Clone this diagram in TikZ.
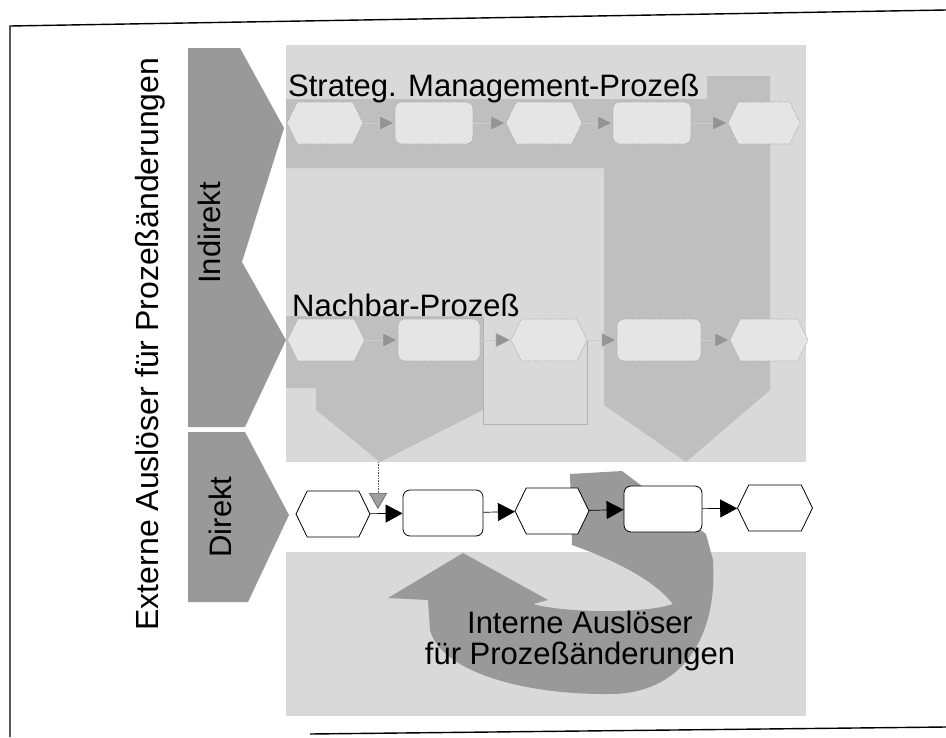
\documentclass[tikz,border=0pt]{standalone}
\usepackage{fontspec}
\setmainfont{Liberation Sans}
\usetikzlibrary{shapes.symbols,arrows.meta}

\definecolor{chev}{gray}{0.6}
\definecolor{paper}{gray}{0.85}
\definecolor{band}{gray}{0.75}
\definecolor{loopgray}{gray}{0.6}
\definecolor{ghost}{gray}{0.9}
\definecolor{ghostline}{gray}{0.62}
\definecolor{ghosttip}{gray}{0.58}

\begin{document}
\begin{tikzpicture}[x=1pt,y=-1pt,
  lbl/.style={font=\fontsize{31}{31}\selectfont, inner sep=0pt},
  evt/.style={signal, signal to=east and west, signal pointer angle=128,
    minimum height=46pt, inner sep=0pt, draw=black, fill=white, line width=0.8pt},
  fct/.style={rectangle, rounded corners=7pt, minimum height=46pt, inner sep=0pt,
    draw=black, fill=white, line width=0.8pt},
  gevt/.style={evt, minimum height=42pt, draw=ghostline, fill=ghost,
    densely dotted, line width=0.6pt},
  gfct/.style={fct, minimum height=42pt, draw=ghostline, fill=ghost,
    densely dotted, line width=0.6pt},
  flow/.style={line width=0.7pt, -{Triangle[length=17pt,width=18pt]}},
  gflow/.style={draw=gray!40, line width=0.5pt,
    -{Triangle[length=15pt,width=15pt,fill=ghosttip]}},
  frame/.style={line width=1.4pt},
  outline/.style={draw=gray!60, line width=0.5pt}
]
\useasboundingbox (0,0) rectangle (946,737);

% paper frame
\draw[frame] (946,10) -- (10,26) -- (10,737);
\draw[frame] (310,734) -- (946,727);

% trigger chevrons on the left
\fill[chev] (188,48) -- (240,48) -- (284,128) -- (242,262) -- (286,340)
  -- (245,427) -- (188,427) -- cycle;
\fill[chev] (188,432) -- (245,432) -- (289,515) -- (248,602) -- (188,602) -- cycle;

\node[lbl, font=\fontsize{32}{32}\selectfont, rotate=90, anchor=base] (extern)
  at (158,344) {Externe Auslöser für Prozeßänderungen};
\node[lbl, rotate=90, anchor=base] (indirekt) at (220,233) {Indirekt};
\node[lbl, rotate=90, anchor=base] (direkt) at (231,517) {Direkt};

% upper field with the indirect processes
\fill[paper] (286,45) rectangle (806,462);
\fill[band] (286,99) -- (707,99) -- (707,76) -- (770,76) -- (770,390)
  -- (686,462) -- (604,405) -- (604,168) -- (286,168) -- cycle;
\fill[band] (286,316) -- (483,316) -- (483,410) -- (380,462) -- (316,410)
  -- (316,388) -- (286,388) -- cycle;

% strategic management process
\node[lbl, anchor=base west] (stitle) at (288,96) {Strateg. Management-Prozeß};
\node[gevt, minimum width=76pt] (s1) at (325,123) {};
\node[gfct, minimum width=78pt] (s2) at (434,123) {};
\node[gevt, minimum width=76pt] (s3) at (544,123) {};
\node[gfct, minimum width=78pt] (s4) at (652,123) {};
\node[gevt, minimum width=72pt] (s5) at (764,123) {};
\draw[gflow] (s1) -- (s2);
\draw[gflow] (s2) -- (s3);
\draw[gflow] (s3) -- (s4);
\draw[gflow] (s4) -- (s5);

% neighbouring process
\node[lbl, anchor=base west] (ntitle) at (292,316) {Nachbar-Prozeß};
\node[gevt, minimum width=77pt] (n1) at (326,340) {};
\node[gfct, minimum width=82pt] (n2) at (439,340) {};
\node[gevt, minimum width=76pt] (n3) at (549,340) {};
\node[gfct, minimum width=84pt] (n4) at (659,340) {};
\node[gevt, minimum width=78pt] (n5) at (769,340) {};
\draw[outline] (n3.east) -- (n3.east |- 0,424) -- (483,424) -- (483,318);
\draw[gflow] (n1) -- (n2);
\draw[gflow] (n2) -- (n3);
\draw[gflow] (n3) -- (n4);
\draw[gflow] (n4) -- (n5);

% lower field with the internal triggers
\fill[paper] (286,552) rectangle (806,716);
\fill[loopgray] (570,474) -- (622,471) -- (642,486) -- (706,534) -- (713,560)
  .. controls (718,640) and (680,694) .. (610,694)
  .. controls (520,695) and (440,670) .. (430,630)
  -- (428,600) -- (388,598) -- (463,553) -- (548,600) -- (533,604)
  .. controls (560,612) and (640,615) .. (673,604)
  .. controls (650,575) and (600,555) .. (572,545) -- cycle;

% the process itself
\node[evt, minimum width=74pt] (d1) at (333,514) {};
\node[fct, minimum width=80pt] (d2) at (443,513) {};
\node[evt, minimum width=74pt] (d3) at (552,511) {};
\node[fct, minimum width=78pt] (d4) at (663,509) {};
\node[evt, minimum width=75pt] (d5) at (775,508) {};
\draw[flow] (d1) -- (d2);
\draw[flow] (d2) -- (d3);
\draw[flow] (d3) -- (d4);
\draw[flow] (d4) -- (d5);

% link from the neighbouring process
\coordinate (ntip) at (378,462);
\coordinate (nend) at (378,509);
\draw[densely dotted, draw=gray!70!black, line width=0.6pt,
  -{Triangle[length=16pt,width=18pt,fill=gray!75]}] (ntip) -- (nend);

\node[lbl, anchor=base] (intern1) at (580,633) {Interne Auslöser};
\node[lbl, anchor=base] (intern2) at (580,664) {für Prozeßänderungen};
\end{tikzpicture}
\end{document}
